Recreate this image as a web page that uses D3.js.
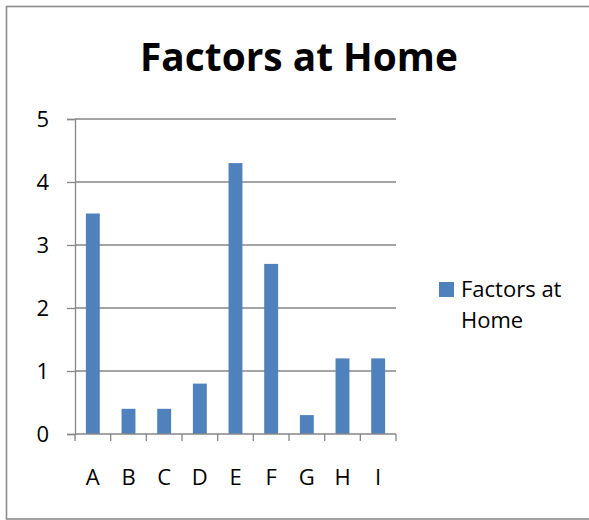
<!DOCTYPE html>
<html>
<head>
<meta charset="utf-8">
<script src="https://cdn.jsdelivr.net/npm/d3@7"></script>
<style>
  html, body { margin: 0; padding: 0; background: #fff; }
  svg { display: block; font-family: "Open Sans", "Noto Sans", sans-serif; }
</style>
</head>
<body>
<svg id="chart" width="589" height="520"></svg>
<script>
// Chart data
const categories = ["A", "B", "C", "D", "E", "F", "G", "H", "I"];
const values = [3.5, 0.4, 0.4, 0.8, 4.3, 2.7, 0.3, 1.2, 1.2];
const yTicks = [0, 1, 2, 3, 4, 5];
const seriesName = "Factors at Home";
const titleText = "Factors at Home";

const svg = d3.select("#chart");
const W = 589, H = 520;
const barColor = "#4F81BD";
const axisColor = "#868686";
const labelSize = "22px";

// Outer frame
svg.append("rect")
  .attr("x", 6.5).attr("y", 6.5)
  .attr("width", 600).attr("height", H - 7.5)
  .attr("fill", "#fff")
  .attr("stroke", "#8c8c8c")
  .attr("stroke-width", 1.6);

// Plot area
const plot = { left: 75, right: 396, top: 119, bottom: 434 };

const x = d3.scaleBand()
  .domain(categories)
  .range([plot.left, plot.right])
  .paddingInner(0.61)
  .paddingOuter(0.305);

const xCat = d3.scaleBand()
  .domain(categories)
  .range([plot.left, plot.right]);

const y = d3.scaleLinear()
  .domain([0, 5])
  .range([plot.bottom, plot.top]);

// Horizontal gridlines
svg.append("g")
  .selectAll("line")
  .data(yTicks.filter(d => d > 0))
  .join("line")
  .attr("x1", plot.left).attr("x2", plot.right)
  .attr("y1", d => y(d)).attr("y2", d => y(d))
  .attr("stroke", axisColor)
  .attr("stroke-width", 1.3);

// Bars
svg.append("g")
  .selectAll("rect")
  .data(categories.map((c, i) => ({ c, v: values[i] })))
  .join("rect")
  .attr("x", d => x(d.c))
  .attr("width", x.bandwidth())
  .attr("y", d => y(d.v))
  .attr("height", d => y(0) - y(d.v))
  .attr("fill", barColor);

// Y axis
const yAxis = svg.append("g")
  .attr("transform", `translate(${plot.left},0)`)
  .call(d3.axisLeft(y).tickValues(yTicks).tickSize(8).tickPadding(18).tickFormat(d3.format("d")));
yAxis.attr("font-size", null).attr("font-family", null);
yAxis.select(".domain").attr("stroke", axisColor).attr("stroke-width", 1.3);
yAxis.selectAll(".tick line").attr("stroke", axisColor).attr("stroke-width", 1.3);
yAxis.selectAll(".tick text")
  .attr("fill", "#000")
  .style("font-size", labelSize);

// X axis with ticks at category boundaries
const xAxisG = svg.append("g")
  .attr("transform", `translate(0,${plot.bottom})`);
xAxisG.append("line")
  .attr("x1", plot.left).attr("x2", plot.right)
  .attr("stroke", axisColor).attr("stroke-width", 1.3);
const boundaries = categories.map(c => xCat(c)).concat([plot.right]);
xAxisG.selectAll("line.tk")
  .data(boundaries)
  .join("line")
  .attr("class", "tk")
  .attr("x1", d => d).attr("x2", d => d)
  .attr("y1", 0).attr("y2", 7)
  .attr("stroke", axisColor).attr("stroke-width", 1.3);
xAxisG.selectAll("text")
  .data(categories)
  .join("text")
  .attr("x", d => xCat(d) + xCat.bandwidth() / 2)
  .attr("y", 51)
  .attr("text-anchor", "middle")
  .style("font-size", labelSize)
  .attr("fill", "#000")
  .text(d => d);

// Title, sized to span its measured width
const title = svg.append("text")
  .attr("x", 299)
  .attr("y", 71)
  .attr("text-anchor", "middle")
  .style("font-weight", "bold")
  .style("font-size", "40px")
  .attr("fill", "#000")
  .text(titleText);
const tw = title.node().getComputedTextLength();
title.style("font-size", (40 * 318 / tw).toFixed(2) + "px");

// Legend
const legend = svg.append("g");
legend.append("rect")
  .attr("x", 439).attr("y", 282)
  .attr("width", 15).attr("height", 15)
  .attr("fill", barColor);
const words = seriesName.split(" ");
const lines = [words.slice(0, 2).join(" "), words.slice(2).join(" ")];
legend.selectAll("text")
  .data(lines)
  .join("text")
  .attr("x", 461)
  .attr("y", (d, i) => 297 + i * 31)
  .style("font-size", labelSize)
  .attr("fill", "#000")
  .text(d => d);
</script>
</body>
</html>
